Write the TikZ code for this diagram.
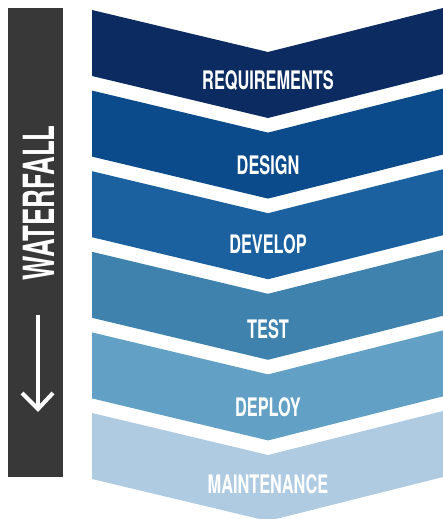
\documentclass[tikz,border=0pt]{standalone}
\usepackage{fontspec}
\usepackage{graphicx}
\newfontfamily\heros{TeX Gyre Heros}
\definecolor{cReq}{HTML}{0C2B60}
\definecolor{cDes}{HTML}{0B4A8B}
\definecolor{cDev}{HTML}{1B61A0}
\definecolor{cTst}{HTML}{3E82AD}
\definecolor{cDep}{HTML}{62A0C5}
\definecolor{cMnt}{HTML}{AFCBE2}
\definecolor{cBar}{HTML}{383838}
\newcommand\condtxt[1]{\scalebox{0.64}[1]{#1}}
\tikzset{
  lbl/.style={text=white, inner sep=0pt, font=\heros\bfseries\fontsize{25.5}{26}\selectfont},
  chev/.style={fill=#1, draw=none}
}
\begin{document}
\begin{tikzpicture}[x=1pt,y=-1pt]
\useasboundingbox (0,0) rectangle (443,519);
\begin{scope}
\clip (0,0) rectangle (443,519);
% chevrons
\foreach \t/\c in {10/cReq, 90.6/cDes, 171.2/cDev, 251.8/cTst, 332.4/cDep, 413/cMnt}{
  \fill[chev=\c] (92,\t) -- (268,\t+42) -- (443,\t-2) -- (443,\t+64) -- (268,\t+108) -- (92,\t+66) -- cycle;
}
\end{scope}
\node[lbl] (req) at (268,80.5) {\condtxt{REQUIREMENTS}};
\node[lbl] (des) at (268,165) {\condtxt{DESIGN}};
\node[lbl] (dev) at (268,244) {\condtxt{DEVELOP}};
\node[lbl] (tst) at (268,329) {\condtxt{TEST}};
\node[lbl] (dep) at (268,407) {\condtxt{DEPLOY}};
\node[lbl] (mnt) at (268,484) {\condtxt{MAINTENANCE}};
% bar
\fill[cBar] (8,8) rectangle (63,477);
\node[text=white, inner sep=0pt, rotate=90, font=\heros\bfseries\fontsize{43}{44}\selectfont] (wf) at (38.5,203) {\scalebox{0.6}[1]{WATERFALL}};
\coordinate (as) at (38,315);
\coordinate (ae) at (38,409);
\draw[white, line width=4pt] (as) -- (ae);
\draw[white, line width=4pt, line join=miter] ([xshift=-16pt,yshift=16pt]ae) -- (ae) -- ([xshift=15pt,yshift=16pt]ae);
\end{tikzpicture}
\end{document}
